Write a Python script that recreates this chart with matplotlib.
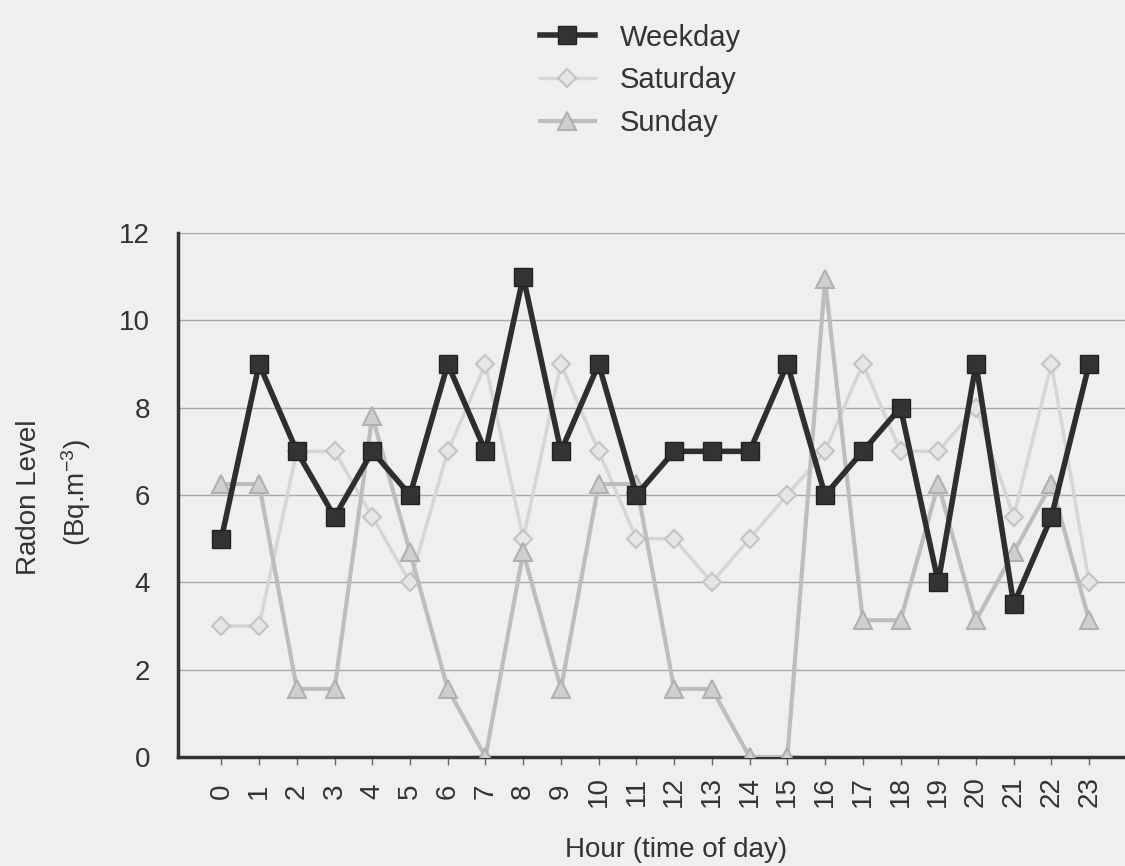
import numpy as np
import matplotlib.pyplot as plt

plt.rcParams['font.family'] = ['Liberation Sans', 'DejaVu Sans']

# hourly radon levels
hours = list(range(24))
weekday = [5, 9, 7, 5.5, 7, 6, 9, 7, 11, 7, 9, 6, 7, 7, 7, 9, 6, 7, 8, 4, 9, 3.5, 5.5, 9]
saturday = [3, 3, 7, 7, 5.5, 4, 7, 9, 5, 9, 7, 5, 5, 4, 5, 6, 7, 9, 7, 7, 8, 5.5, 9, 4]
sunday = [6.25, 6.25, 1.56, 1.56, 7.81, 4.69, 1.56, 0, 4.69, 1.56, 6.25, 6.25, 1.56, 1.56,
          0, 0, 10.94, 3.13, 3.13, 6.25, 3.13, 4.69, 6.25, 3.13]

bg = '#efefed'
txt = '#333333'
W, H = 1125, 866
fig = plt.figure(figsize=(11.25, 8.66), dpi=100, facecolor=bg)
ax = fig.add_axes([178 / W, 1 - 757 / H, 1 - 178 / W, (757 - 233) / H], facecolor=bg)

x = np.array(hours)
ax.plot(x, weekday, color='#2e2e2e', lw=4, marker='s', ms=13,
        mfc='#333333', mec='#222222', label='Weekday', zorder=4)
ax.plot(x, saturday, color='#d6d6d6', lw=2.5, marker='D', ms=9,
        mfc='#e6e6e6', mec='#c4c4c4', mew=1.5, label='Saturday', zorder=2)
ax.plot(x, sunday, color='#bdbdbd', lw=3, marker='^', ms=13,
        mfc='#cfcfcf', mec='#b0b0b0', mew=1.5, label='Sunday', zorder=3)

ax.set_xlim(-1.15, 23.95)
ax.set_ylim(0, 12)
ax.set_yticks(range(0, 13, 2))
ax.set_xticks(hours)
ax.set_xticklabels([str(h) for h in hours], rotation=90, va='center')
ax.tick_params(axis='x', length=6, width=1, color='#666666', labelsize=20,
               labelcolor=txt, pad=19)
ax.tick_params(axis='y', length=0, labelsize=20, labelcolor=txt, pad=20)
ax.yaxis.grid(True, color='#a8a8a8', lw=1)
ax.set_axisbelow(True)

for s in ['top', 'right']:
    ax.spines[s].set_visible(False)
for s in ['left', 'bottom']:
    ax.spines[s].set_color(txt)
    ax.spines[s].set_linewidth(2.5)

fig.text(676 / W, 1 - 850 / H, 'Hour (time of day)', fontsize=20, color=txt,
         ha='center', va='center')
fig.text(29 / W, 1 - 497 / H, 'Radon Level', fontsize=20, color=txt,
         rotation=90, ha='center', va='center')
fig.text(76 / W, 1 - 493 / H, '(Bq.m$\\mathregular{^{-3}}$)', fontsize=20, color=txt,
         rotation=90, ha='center', va='center')

fig.legend(loc='upper left', bbox_to_anchor=(528 / W, 1 - 12 / H), borderaxespad=0,
           frameon=False, fontsize=21, handlelength=1.9, handletextpad=0.85,
           labelspacing=0.5, labelcolor=txt)

fig.savefig('out.png', dpi=100, facecolor=bg)
